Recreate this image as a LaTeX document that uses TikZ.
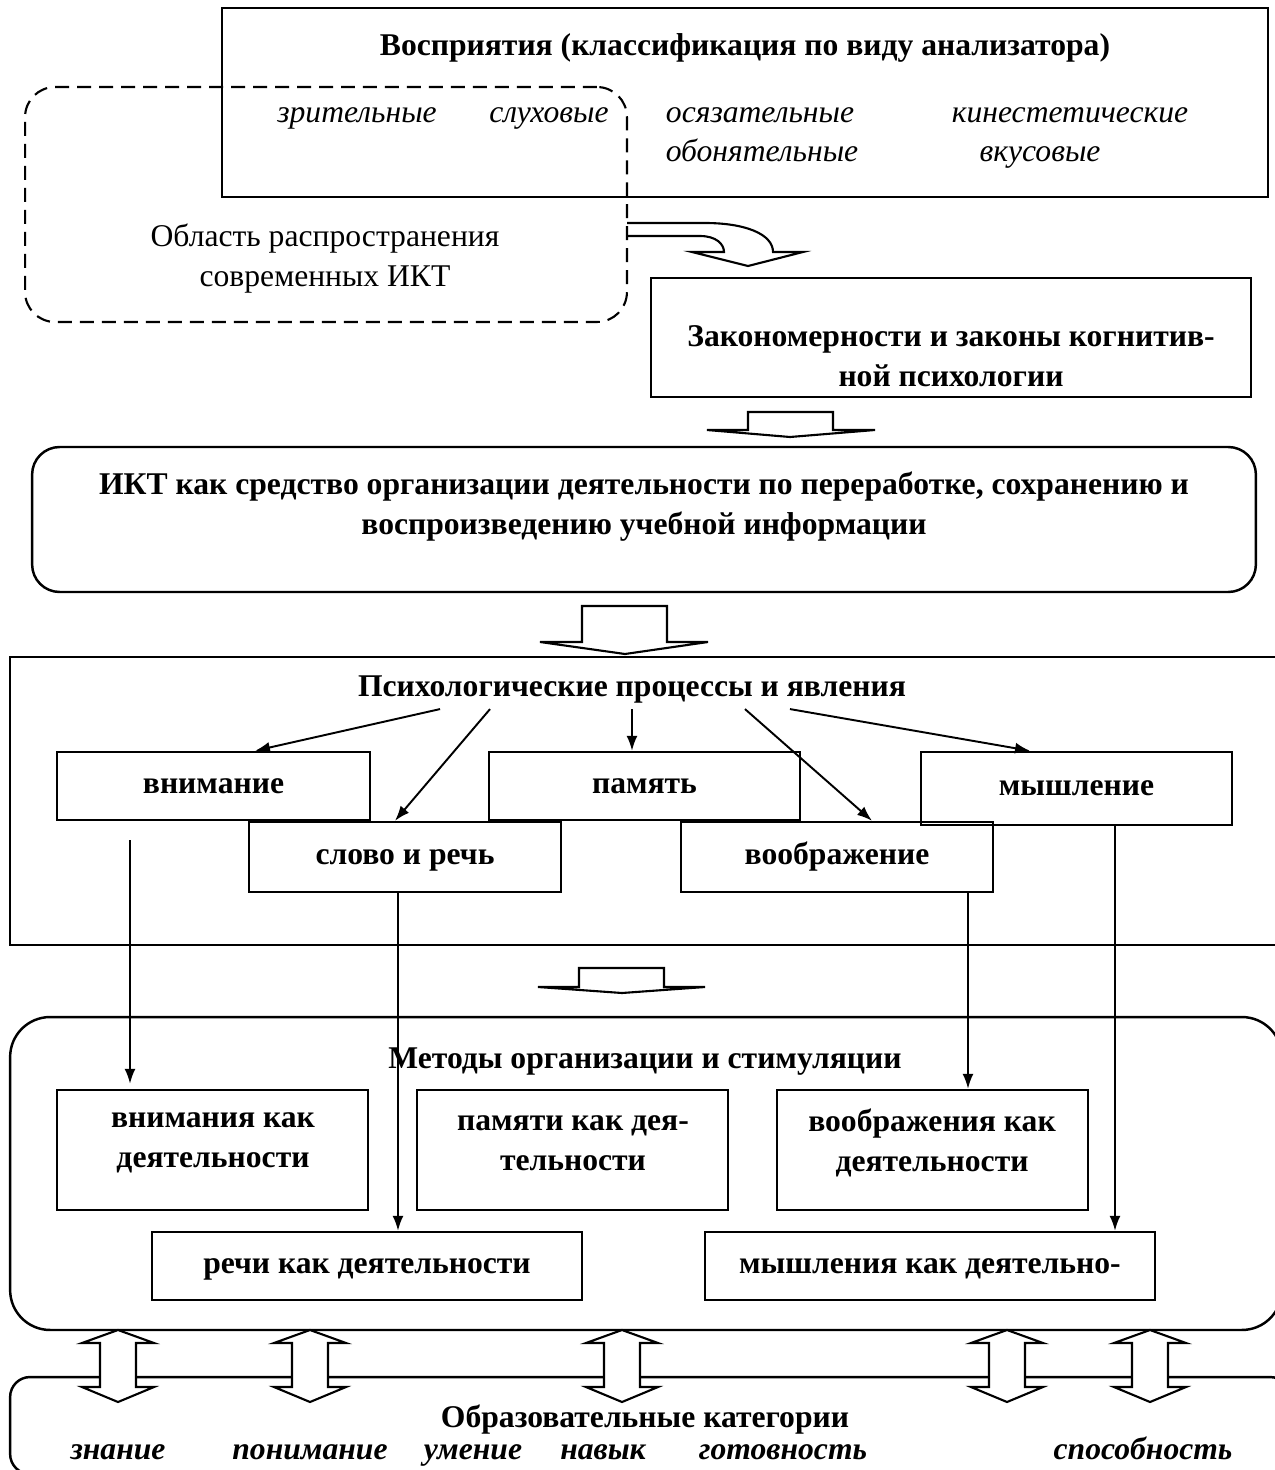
\documentclass[tikz,border=0pt]{standalone}
\usepackage{fontspec}
\setmainfont{Liberation Serif}
\usetikzlibrary{arrows.meta}
\newcommand\myfs{\fontsize{18}{22.8}\selectfont}
\begin{document}
\begin{tikzpicture}[x=0.02cm,y=-0.02cm,
  box/.style={draw, line width=1.4pt, inner sep=0pt, font=\myfs\bfseries, align=center},
  sbox/.style={draw, line width=1.4pt, inner sep=0pt, font=\myfs\bfseries, text height=0.9em, text depth=0.1em},
  lbl/.style={font=\myfs\bfseries, align=center, inner sep=0pt},
  itx/.style={font=\myfs\itshape, inner sep=0pt, text height=0.7em, text depth=0.2em},
  bitx/.style={font=\myfs\bfseries\itshape, inner sep=0pt, text height=0.7em, text depth=0.2em},
  rtx/.style={font=\myfs, inner sep=0pt, align=center},
  conn/.style={line width=1.1pt, -{Latex[length=0.3cm,width=0.22cm]}},
  barrow/.style={fill=white, line width=1.2pt, line join=miter}]
\useasboundingbox (0,0) rectangle (1274,1470);

% perception box
\node[box, minimum width=20.92cm, minimum height=3.78cm] (perc) at (745,102.5) {};
\node[lbl] (percT) at (745,48) {Восприятия (классификация по виду анализатора)};
\node[itx] (p1) at (357,118) {зрительные};
\node[itx] (p2) at (549,118) {слуховые};
\node[itx] (p3) at (760,118) {осязательные};
\node[itx] (p4) at (1070,118) {кинестетические};
\node[itx] (p5) at (762,157) {обонятельные};
\node[itx] (p6) at (1040,157) {вкусовые};

% dashed area
\node[draw, line width=1.2pt, dash pattern=on 0.28cm off 0.16cm, rounded corners=0.6cm,
      minimum width=12.04cm, minimum height=4.7cm] (area) at (326,204.5) {};
\node[rtx] (areaT) at (325,259) {Область распространения\\современных ИКТ};

% curved block arrow
\draw[line width=1.2pt, line join=miter] (627,236) -- (700,236) .. controls (716,236) and (724,244) .. (724,252)
  -- (692,252) -- (748,266) -- (803,252) -- (773,252)
  .. controls (773,234) and (745,223) .. (705,223) -- (627,223);

% laws box
\node[box, minimum width=12cm, minimum height=2.38cm] (zak) at (951,337.5) {};
\node[lbl] (zakT) at (951,356) {Закономерности и законы когнитив-\\ной психологии};

% block arrow 1
\filldraw[barrow] (748,412) -- (833,412) -- (833,430) -- (875,430) -- (790,437) -- (707,430) -- (748,430) -- cycle;

% ICT box
\node[box, rounded corners=0.55cm, minimum width=24.48cm, minimum height=2.9cm] (ikt) at (644,519.5) {};
\node[lbl] (iktT) at (644,507) {ИКТ как средство организации деятельности по переработке, сохранению и\\воспроизведению учебной информации};

% block arrow 2
\filldraw[barrow] (582,606) -- (667,606) -- (667,642) -- (708,642) -- (625,654) -- (540,642) -- (582,642) -- cycle;

% psychological processes
\node[box, minimum width=25.6cm, minimum height=5.76cm] (psy) at (650,801) {};
\node[lbl] (psyT) at (632,690) {Психологические процессы и явления};
\node[sbox, minimum width=6.26cm, minimum height=1.36cm] (vn) at (213.5,786) {внимание};
\node[sbox, minimum width=6.22cm, minimum height=1.36cm] (pam) at (644.5,786) {память};
\node[sbox, minimum width=6.22cm, minimum height=1.46cm] (mys) at (1076.5,788.5) {мышление};
\node[sbox, minimum width=6.24cm, minimum height=1.4cm] (slo) at (405,857) {слово и речь};
\node[sbox, minimum width=6.24cm, minimum height=1.4cm] (voo) at (837,857) {воображение};

\draw[conn] ([xshift=-3.84cm,yshift=-0.1cm]psyT.south) -- ([xshift=0.83cm]vn.north);
\draw[conn] ([xshift=-2.84cm,yshift=-0.1cm]psyT.south) -- ([xshift=-0.2cm]slo.north);
\draw[conn] ([yshift=-0.1cm]psyT.south) -- ([xshift=-0.25cm]pam.north);
\draw[conn] ([xshift=2.26cm,yshift=-0.1cm]psyT.south) -- ([xshift=0.7cm]voo.north);
\draw[conn] ([xshift=3.16cm,yshift=-0.1cm]psyT.south) -- ([xshift=-0.93cm]mys.north);

% block arrow 3
\filldraw[barrow] (579,968) -- (664,968) -- (664,987) -- (705,987) -- (622,993) -- (538,987) -- (579,987) -- cycle;

% methods
\node[box, rounded corners=0.8cm, minimum width=25.44cm, minimum height=6.26cm] (met) at (646,1173.5) {};
\node[box, minimum width=6.22cm, minimum height=2.4cm] (vnd) at (212.5,1150) {};
\node[box, minimum width=6.22cm, minimum height=2.4cm] (pmd) at (572.5,1150) {};
\node[box, minimum width=6.22cm, minimum height=2.4cm] (vod) at (932.5,1150) {};
\node[lbl] (vndT) at (213,1143) {внимания как\\деятельности};
\node[lbl] (pmdT) at (573,1143) {памяти как дея-\\тельности};
\node[lbl] (vodT) at (932,1143) {воображения как\\деятельности};
\node[sbox, minimum width=8.6cm, minimum height=1.36cm] (rch) at (367,1266) {речи как деятельности};
\node[sbox, minimum width=9cm, minimum height=1.36cm] (myd) at (930,1266) {мышления как деятельно-};

\coordinate (c1) at (130,840);
\coordinate (c2) at (398,892);
\coordinate (c3) at (968,892);
\coordinate (c4) at (1115,825);
\draw[conn] (c1) -- ([yshift=0.1cm]c1 |- vnd.north);
\draw[conn] (c2 |- slo.south) -- (c2 |- rch.north);
\draw[conn] (c3 |- voo.south) -- (c3 |- vod.north);
\draw[conn] (c4 |- mys.south) -- (c4 |- myd.north);
\node[lbl] (metT) at (645,1062) {Методы организации и стимуляции};

% education categories
\node[box, rounded corners=0.4cm, minimum width=25.6cm, minimum height=1.94cm] (edu) at (650,1425.5) {};
\node[lbl] (eduT) at (645,1420) {Образовательные категории};
\node[bitx] (e1) at (118,1455) {знание};
\node[bitx] (e2) at (310,1455) {понимание};
\node[bitx] (e3) at (473,1455) {умение};
\node[bitx] (e4) at (603,1455) {навык};
\node[bitx] (e5) at (783,1455) {готовность};
\node[bitx] (e6) at (1143,1455) {способность};

\foreach \x in {118,310,622,1007,1150}
  \filldraw[barrow] (\x,1330) -- (\x+36,1343) -- (\x+18,1343) -- (\x+18,1387) -- (\x+36,1387)
    -- (\x,1402) -- (\x-36,1387) -- (\x-18,1387) -- (\x-18,1343) -- (\x-36,1343) -- cycle;
\end{tikzpicture}
\end{document}
